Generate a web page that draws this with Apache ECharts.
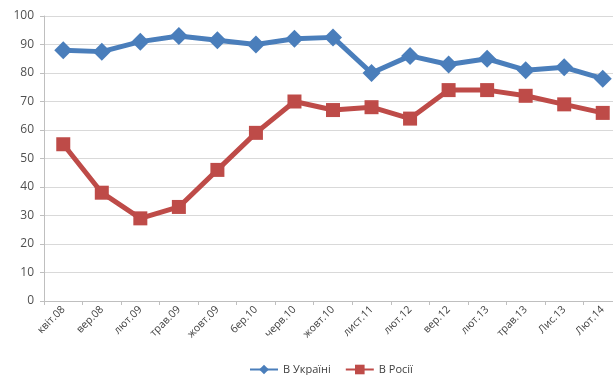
<!DOCTYPE html>
<html>
<head>
<meta charset="utf-8">
<script src="https://cdn.jsdelivr.net/npm/echarts@6/dist/echarts.min.js"></script>
<style>
  html, body { margin: 0; padding: 0; background: #fff; }
  #chart { width: 613px; height: 375px; }
</style>
</head>
<body>
<div id="chart"></div>
<script>
var months = ['квіт.08', 'вер.08', 'лют.09', 'трав.09', 'жовт.09', 'бер.10', 'черв.10', 'жовт.10',
              'лист.11', 'лют.12', 'вер.12', 'лют.13', 'трав.13', 'Лис.13', 'Лют.14'];
var inUkraine = [88, 87.5, 91, 93, 91.5, 90, 92, 92.5, 80, 86, 83, 85, 81, 82, 78];
var inRussia = [55, 38, 29, 33, 46, 59, 70, 67, 68, 64, 74, 74, 72, 69, 66];
var yTicks = { min: 0, max: 100, step: 10 };

var myChart = echarts.init(document.getElementById('chart'));
var txt = '#404040';
var option = {
  animation: false,
  backgroundColor: '#fff',
  // plot runs past the right edge, as in the cropped original
  grid: { left: 44, width: 578, top: 16, bottom: 74, containLabel: false, outerBoundsMode: 'none' },
  legend: {
    top: 359,
    left: 244,
    itemWidth: 28,
    itemHeight: 12,
    itemGap: 14,
    textStyle: { color: txt, fontSize: 11, fontFamily: 'Open Sans' },
    data: ['В Україні', 'В Росії']
  },
  xAxis: {
    type: 'category',
    data: months,
    boundaryGap: true,
    axisLine: { lineStyle: { color: '#bfbfbf' } },
    axisTick: { show: true, length: 4, lineStyle: { color: '#bfbfbf' } },
    axisLabel: { rotate: 45, color: txt, fontSize: 10.5, fontFamily: 'Open Sans', margin: 7, interval: 0 }
  },
  yAxis: {
    type: 'value',
    min: yTicks.min,
    max: yTicks.max,
    interval: yTicks.step,
    axisLine: { show: true, lineStyle: { color: '#bfbfbf' } },
    axisTick: { show: true, length: 4, lineStyle: { color: '#bfbfbf' } },
    axisLabel: { color: '#505050', fontSize: 12, fontFamily: 'Open Sans', margin: 10 },
    splitLine: { lineStyle: { color: '#d9d9d9', width: 1 } }
  },
  series: [
    {
      name: 'В Україні',
      type: 'line',
      data: inUkraine,
      symbol: 'diamond',
      symbolSize: 18,
      lineStyle: { color: '#4a7ebb', width: 5 },
      itemStyle: { color: '#4a7ebb' }
    },
    {
      name: 'В Росії',
      type: 'line',
      data: inRussia,
      symbol: 'rect',
      symbolSize: 14,
      lineStyle: { color: '#be4b48', width: 5 },
      itemStyle: { color: '#be4b48' }
    }
  ]
};
myChart.setOption(option);
</script>
</body>
</html>
